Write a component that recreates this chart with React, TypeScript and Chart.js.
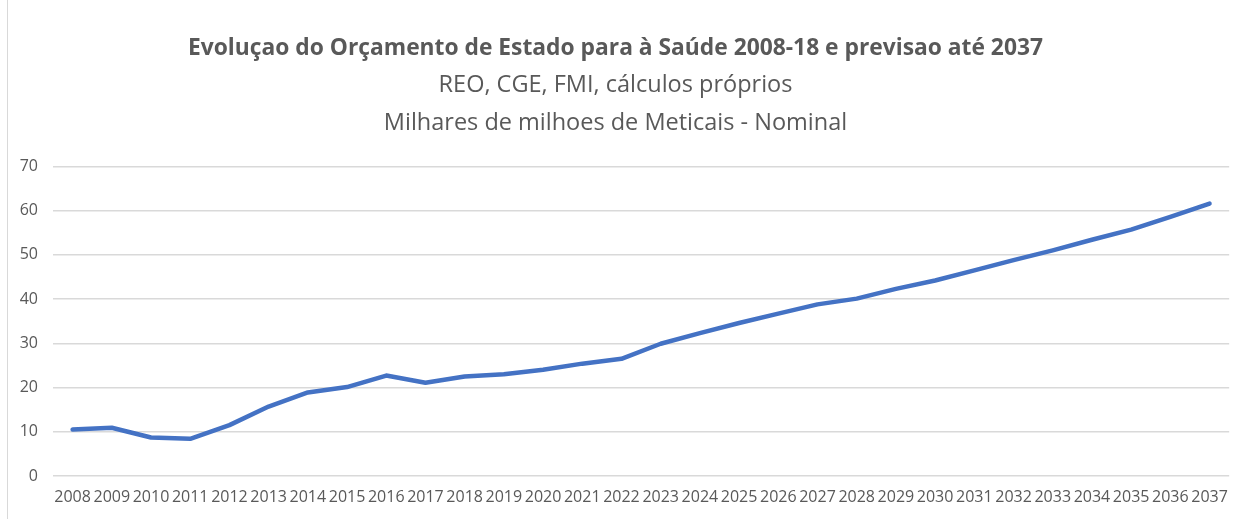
import React, { useEffect, useRef } from "react";
import { Chart, registerables } from "chart.js";

Chart.register(...registerables);

const years: string[] = [
  "2008", "2009", "2010", "2011", "2012", "2013", "2014", "2015", "2016", "2017",
  "2018", "2019", "2020", "2021", "2022", "2023", "2024", "2025", "2026", "2027",
  "2028", "2029", "2030", "2031", "2032", "2033", "2034", "2035", "2036", "2037",
];

const budget: number[] = [
  10.5, 10.9, 8.7, 8.4, 11.5, 15.7, 18.9, 20.1, 22.7, 21.1,
  22.5, 23.0, 24.0, 25.4, 26.5, 29.9, 32.3, 34.6, 36.7, 38.8,
  40.1, 42.3, 44.2, 46.5, 48.8, 51.0, 53.4, 55.7, 58.6, 61.6,
];

const titleText = "Evoluçao do Orçamento de Estado para à Saúde 2008-18 e previsao até 2037";
const subtitleLines = ["REO, CGE, FMI, cálculos próprios", "Milhares de milhoes de Meticais - Nominal"];

const FONT = "'Open Sans', 'DejaVu Sans', sans-serif";
const TEXT = "#595959";

export default function App() {
  const ref = useRef<HTMLCanvasElement>(null);

  useEffect(() => {
    if (!ref.current) return;
    const chart = new Chart(ref.current, {
      type: "line",
      data: {
        labels: years,
        datasets: [
          {
            label: "Orçamento",
            data: budget,
            borderColor: "#4472C4",
            backgroundColor: "#4472C4",
            borderWidth: 4.5,
            pointRadius: 0,
            tension: 0,
            borderCapStyle: "round",
            borderJoinStyle: "round",
          },
        ],
      },
      options: {
        animation: false,
        responsive: false,
        maintainAspectRatio: false,
        layout: { padding: { top: 35, right: 9, bottom: 10, left: 0 } },
        plugins: {
          legend: { display: false },
          tooltip: { enabled: false },
          title: {
            display: true,
            text: titleText,
            color: TEXT,
            font: { family: FONT, size: 22.8, weight: "bold", lineHeight: 1.2 },
            padding: { top: 0, bottom: 4 },
          },
          subtitle: {
            display: true,
            text: subtitleLines,
            color: TEXT,
            font: { family: FONT, size: 23.5, weight: "normal", lineHeight: 1.617 },
            padding: { top: 0, bottom: 24 },
          },
        },
        scales: {
          x: {
            offset: true,
            afterFit: (scale: any) => {
              scale.height = 33;
            },
            grid: { display: false, drawTicks: false },
            border: { display: false },
            ticks: {
              color: TEXT,
              font: { family: FONT, size: 16 },
              maxRotation: 0,
              autoSkip: false,
              padding: 12,
            },
          },
          y: {
            min: 0,
            max: 70,
            afterFit: (scale: any) => {
              scale.width = 53;
            },
            grid: { color: "#d9d9d9", lineWidth: 1.5, drawTicks: false },
            border: { display: false },
            ticks: {
              stepSize: 10,
              color: TEXT,
              font: { family: FONT, size: 16 },
              padding: 15,
            },
          },
        },
      },
    });
    return () => chart.destroy();
  }, []);

  return (
    <div style={{ position: "absolute", left: 0, top: 0, width: 1240, height: 519, background: "#fff" }}>
      <div style={{ position: "absolute", left: 7, top: 0, width: 1, height: 519, background: "#d9d9d9" }} />
      <canvas ref={ref} width={1240} height={519} style={{ position: "absolute", left: 0, top: 0 }} />
    </div>
  );
}
